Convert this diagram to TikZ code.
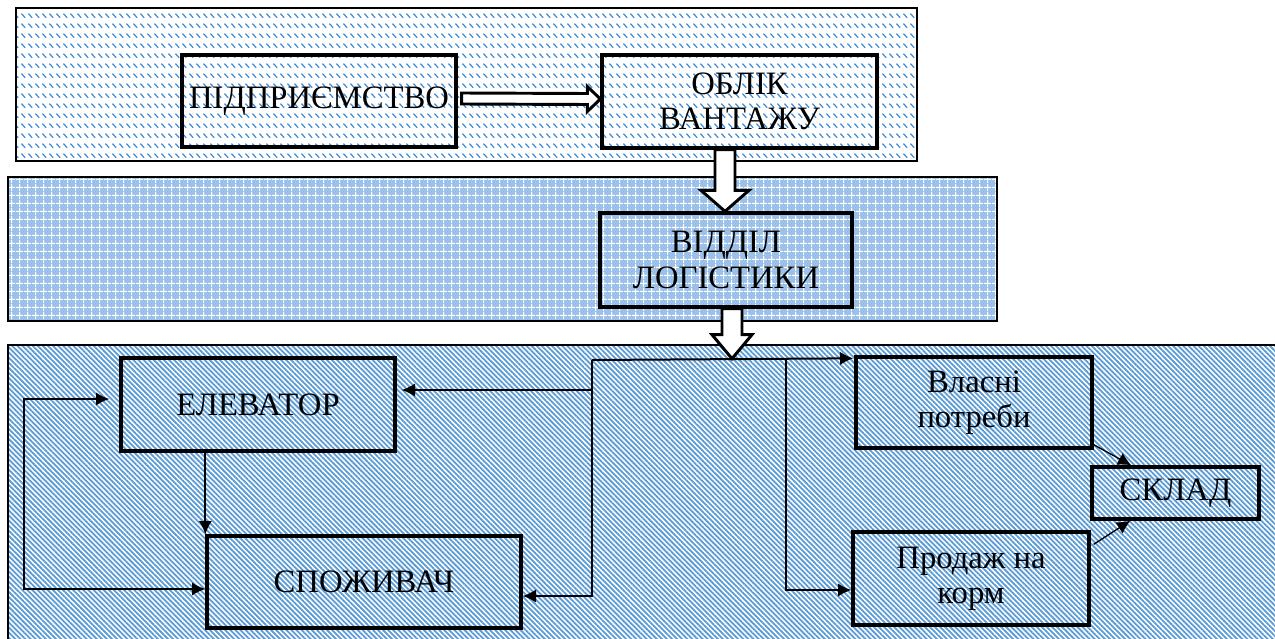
\documentclass[tikz,border=0pt]{standalone}
\usepackage{fontspec}
\setmainfont{Liberation Serif}
\usetikzlibrary{patterns,patterns.meta,arrows.meta,calc}

\definecolor{stripeblue}{RGB}{91,155,213}
\definecolor{dashblue}{RGB}{60,140,215}
\definecolor{gridfill}{RGB}{155,192,234}

\pgfdeclarepattern{
  name=dashrows, type=uncolored,
  bottom left={\pgfpoint{0pt}{0pt}}, top right={\pgfpoint{5.25pt}{7.8pt}},
  tile size={\pgfpoint{5.25pt}{7.8pt}},
  code={\pgfsetlinewidth{1pt}
    \pgfpathmoveto{\pgfpoint{0.4pt}{5.8pt}}\pgfpathlineto{\pgfpoint{3.6pt}{2.6pt}}\pgfusepath{stroke}}
}
\pgfdeclarepattern{
  name=crossgrid, type=uncolored,
  bottom left={\pgfpoint{0pt}{0pt}}, top right={\pgfpoint{6pt}{6pt}},
  tile size={\pgfpoint{6pt}{6pt}},
  code={\pgfsetlinewidth{0.9pt}
    \pgfpathmoveto{\pgfpoint{0pt}{3pt}}\pgfpathlineto{\pgfpoint{6pt}{3pt}}
    \pgfpathmoveto{\pgfpoint{3pt}{0pt}}\pgfpathlineto{\pgfpoint{3pt}{6pt}}\pgfusepath{stroke}}
}

\begin{document}
\begin{tikzpicture}[x=0.75pt,y=-0.75pt,
  box/.style={draw, line width=2.5pt, inner sep=0pt, align=center,
    font=\fontsize{24.5}{26.5}\selectfont},
  panel/.style={draw, line width=2.2pt},
  hollow/.style={draw, fill=white, line width=2.2pt, line join=miter},
  conn/.style={line width=1.5pt, -{Latex[length=10pt,width=10pt]}},
  thinconn/.style={line width=1pt, -{Latex[length=10pt,width=10pt]}}]
\useasboundingbox (0,0) rectangle (1275,639);
\clip (0,0) rectangle (1275,639);

% panels
\fill[white] (16,8) rectangle (917,161);
\draw[panel, pattern=dashrows, pattern color=dashblue] (16,8) rectangle (917,161);
\fill[gridfill] (8,177) rectangle (997,321);
\draw[panel, pattern=crossgrid, pattern color=white] (8,177) rectangle (997,321);
\fill[white] (8,345) rectangle (1300,680);
\draw[panel, pattern={Lines[angle=-45,distance=2.7pt,line width=1.35pt]}, pattern color=stripeblue] (8,345) rectangle (1300,680);

% nodes
\node[box, minimum width=205.5pt, minimum height=69pt] (pidp) at (319,101) {ПІДПРИЄМСТВО};
\node[box, minimum width=206.25pt, minimum height=69.75pt] (oblik) at (739.5,101.5) {ОБЛІК\\ВАНТАЖУ};
\node[box, minimum width=189pt, minimum height=70.5pt] (viddil) at (726,260) {ВІДДІЛ\\ЛОГІСТИКИ};
\node[box, minimum width=205.5pt, minimum height=69.75pt] (elev) at (258,404.5) {ЕЛЕВАТОР};
\node[box, minimum width=235.5pt, minimum height=69pt] (spoz) at (364,582) {СПОЖИВАЧ};
\node[box, minimum width=177pt, minimum height=68.25pt] (vlas) at (974,402.5) {Власні\\потреби};
\node[box, minimum width=125.25pt, minimum height=39pt] (sklad) at (1175.5,493) {СКЛАД};
\node[box, minimum width=177pt, minimum height=69.75pt] (prod) at (971,578.5) {Продаж на\\корм};

% hollow horizontal arrow
\draw[hollow] ($(pidp.east)+(4,-8)$) -- ($(oblik.west)+(-13,-8)$) -- ($(oblik.west)+(-13,-15)$)
  -- ($(oblik.west)+(0,-2.5)$) -- ($(oblik.west)+(-13,10)$) -- ($(oblik.west)+(-13,3)$)
  -- ($(pidp.east)+(4,3)$) -- cycle;

% hollow down arrow 1
\coordinate (t1) at ($(oblik.south)+(-14.5,0)$);
\coordinate (h1) at (t1 |- viddil.north);
\draw[hollow] ($(t1)+(-10,0)$) -- ($(h1)+(-10,-21)$) -- ($(h1)+(-24,-21)$) -- (h1)
  -- ($(h1)+(24,-21)$) -- ($(h1)+(10,-21)$) -- ($(t1)+(10,0)$) -- cycle;

% hollow down arrow 2
\coordinate (t2) at ($(viddil.south)+(6,0)$);
\coordinate (h2) at ($(t2)+(0,50)$);
\draw[hollow] ($(t2)+(-10,0)$) -- ($(h2)+(-10,-24)$) -- ($(h2)+(-20,-24)$) -- (h2)
  -- ($(h2)+(20,-24)$) -- ($(h2)+(10,-24)$) -- ($(t2)+(10,0)$) -- cycle;

% bus connectors
\coordinate (bl) at (592,360);
\coordinate (br) at (786,360);
\coordinate (bm) at (592,390);
\draw[conn] (bl) -- ($(vlas.north west)+(-1,3)$);
\draw[conn] (bl) |- ($(spoz.east)+(0,14)$);
\draw[conn] (bm) -- ($(elev.east)+(5,-14.5)$);
\draw[conn] (br) |- ($(prod.west)+(0,11.5)$);

% left side
\draw[conn] (elev.south -| spoz.north west) -- (spoz.north west);
\coordinate (lt) at (24,399);
\coordinate (lb) at (24,589);
\draw[line width=1.5pt, {Latex[length=10pt,width=10pt]}-{Latex[length=10pt,width=10pt]}]
  ($(elev.west)+(-10,-5.5)$) -- (lt) -- (lb) -- ($(spoz.west)+(0,7)$);

% to warehouse
\draw[thinconn] ($(vlas.south east)+(0,-5)$) -- ($(sklad.north west)+(41,0)$);
\draw[thinconn] ($(prod.north east)+(3,14)$) -- ($(sklad.south west)+(40,0)$);
\end{tikzpicture}
\end{document}
